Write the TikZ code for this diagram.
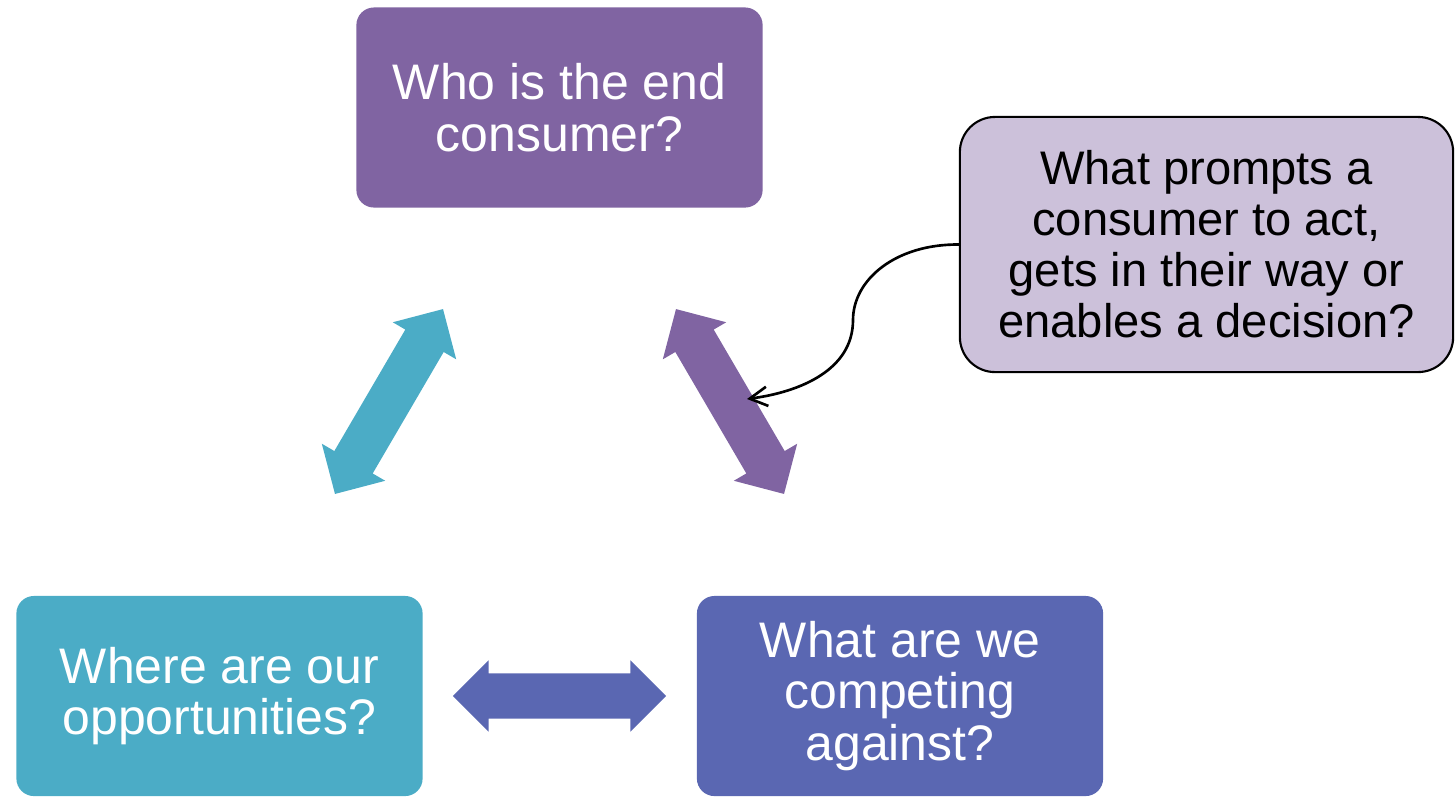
\documentclass[tikz,border=0pt]{standalone}
\usepackage{fontspec}
\setmainfont{Liberation Sans}
\usetikzlibrary{arrows.meta,shapes.arrows}
\definecolor{qpurple}{HTML}{8064A2}
\definecolor{qteal}{HTML}{4BACC6}
\definecolor{qblue}{HTML}{5A67B2}
\definecolor{qlilac}{HTML}{CCC1DA}
\begin{document}
\begin{tikzpicture}[
    x=0.01cm, y=-0.01cm,
    question/.style={rounded corners=5pt, minimum width=4.06cm, minimum height=2cm, align=center, text=white, font=\fontsize{14.2}{14.6}\selectfont},
    note/.style={draw, line width=0.6pt, rounded corners=10pt, fill=qlilac, minimum width=4.93cm, minimum height=2.55cm, align=center, font=\fontsize{13.4}{14.5}\selectfont},
    link/.style={shape=double arrow, inner xsep=0pt, inner ysep=0.215cm, double arrow head extend=0.145cm, minimum height=2.14cm},
    arr/.style={-{Straight Barb[length=5pt, width=5.5pt]}, line width=0.75pt}
]
\useasboundingbox (0,0) rectangle (1455,796);

\node[question, fill=qpurple] (who) at (559.5,107.5) {Who is the end\\consumer?};
\node[question, fill=qteal] (where) at (219.5,696) {Where are our\\opportunities?};
\node[question, fill=qblue] (what) at (900,696) {What are we\\competing\\against?};
\node[note] (prompt) at (1206.5,244.5) {What prompts a\\consumer to act,\\gets in their way or\\enables a decision?};

% two-way arrows between the questions
\node[link, fill=qteal, rotate=59.7] (lw) at (389,401.5) {};
\node[link, fill=qpurple, rotate=-59.7] (wc) at (730,401.5) {};
\node[link, fill=qblue, minimum height=2.13cm, inner ysep=0.22cm, double arrow head extend=0.13cm] (oc) at (559.5,696) {};

\coordinate (hint) at (747,399);
\draw[arr] (prompt.west) .. controls (895,244) and (853,280) .. (853,320)
    .. controls (853,370) and (800,392) .. (hint);
\end{tikzpicture}
\end{document}
